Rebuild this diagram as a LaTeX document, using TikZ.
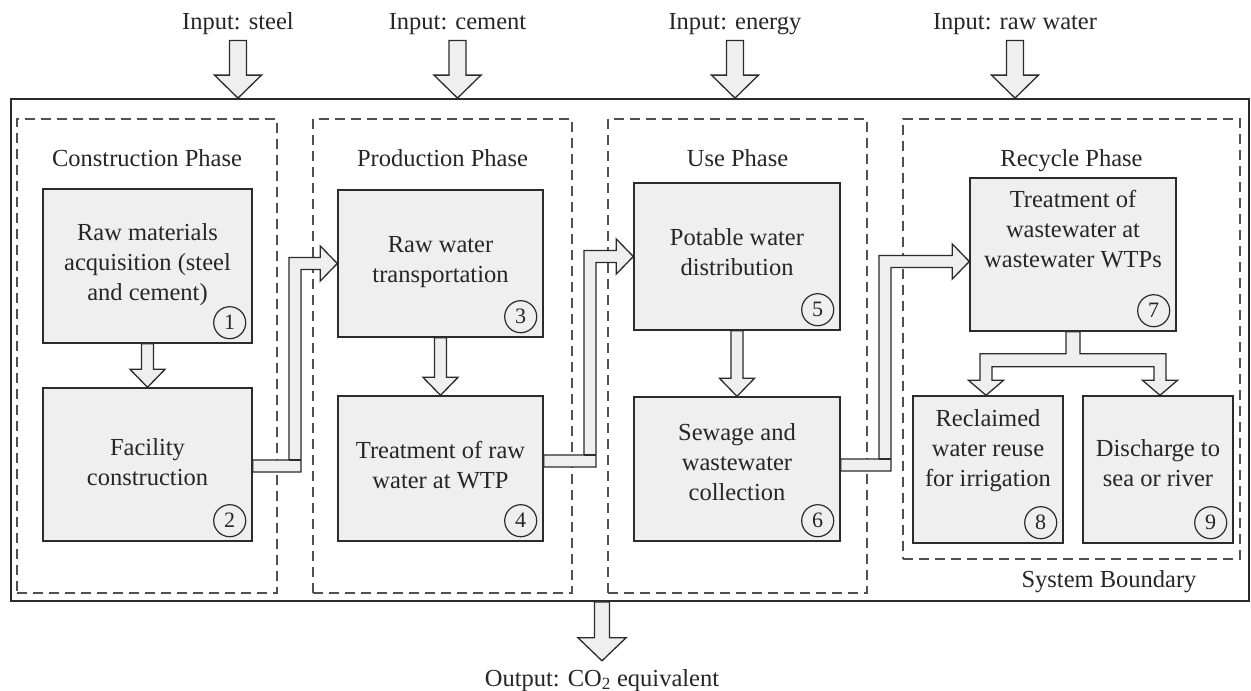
\documentclass[tikz,border=0pt]{standalone}
\usepackage{fontspec}
\setmainfont{Liberation Serif}
\usetikzlibrary{calc}
\definecolor{boxfill}{HTML}{EFEFEF}
\definecolor{linecol}{HTML}{2B2B2B}
\definecolor{dashcol}{HTML}{505050}
% invisible strut: equal line height/depth for every text line
\newcommand\lstrut{\rule[-6pt]{0pt}{23pt}}
% hollow block arrow pointing down: start, tip, shaft half width, head half width, head length
\newcommand\blockdown[5]{%
  \filldraw[blk] let \p1=(#1), \p2=(#2) in
    ({\x1-#3pt},\y1) -- ({\x1+#3pt},\y1) -- ({\x1+#3pt},{\y2+#5pt}) --
    ({\x1+#4pt},{\y2+#5pt}) -- (\x1,\y2) -- ({\x1-#4pt},{\y2+#5pt}) --
    ({\x1-#3pt},{\y2+#5pt}) -- cycle;}
% hollow elbow arrow: source point, target tip, riser position
\newcommand\elbowarrow[3]{%
  \filldraw[blk] let \p1=(#1), \p2=(#2), \p3=(#3) in
    (\x1,{\y1+6pt}) -- ({\x3-6pt},{\y1+6pt}) -- ({\x3-6pt},{\y2+6pt}) --
    ({\x2-17pt},{\y2+6pt}) -- ({\x2-17pt},{\y2+17.5pt}) -- (\x2,\y2) --
    ({\x2-17pt},{\y2-17.5pt}) -- ({\x2-17pt},{\y2-6pt}) -- ({\x3+6pt},{\y2-6pt}) --
    ({\x3+6pt},{\y1-6pt}) -- (\x1,{\y1-6pt}) -- cycle;
  \draw[blk, fill=none] let \p1=(#1), \p3=(#3) in
    ({\x3-6pt},{\y1+6pt}) -- ({\x3+6pt},{\y1+6pt});}

\begin{document}
\begin{tikzpicture}[x=1pt,y=-1pt,
  every node/.style={inner sep=0pt, font=\fontsize{24.5}{30}\selectfont, text=black!85},
  boundary/.style={draw=linecol, line width=1.8pt, fill=white, rectangle},
  phase/.style={draw=dashcol, line width=1.8pt, dash pattern=on 10pt off 6pt, rectangle},
  proc/.style={draw=linecol, line width=1.4pt, fill=boxfill, rectangle},
  txt/.style={align=center},
  num/.style={circle, draw=linecol, line width=1.2pt, minimum size=32pt,
              font=\fontsize{22}{24}\selectfont},
  blk/.style={draw=linecol, line width=1.3pt, fill=boxfill, line join=miter},
]
\useasboundingbox (0,0) rectangle (1251,691);
\fill[white] (0,0) rectangle (1251,691);

% system boundary
\node[boundary, minimum width=1238pt, minimum height=502pt] (sb) at (630,350) {};
\node[anchor=base] (sbl) at (1109,587) {System Boundary};

% phases
\node[phase, minimum width=260pt, minimum height=474pt] (p1) at (147,356) {};
\node[phase, minimum width=259pt, minimum height=474pt] (p2) at (442.5,356) {};
\node[phase, minimum width=259pt, minimum height=474pt] (p3) at (737.5,356) {};
\node[phase, minimum width=337pt, minimum height=440pt] (p4) at (1071.5,339) {};
\node[anchor=base] (pt1) at (147,166) {Construction Phase};
\node[anchor=base] (pt2) at (442.5,166) {Production Phase};
\node[anchor=base] (pt3) at (737.5,166) {Use Phase};
\node[anchor=base] (pt4) at (1071.5,166) {Recycle Phase};

% process boxes
\node[proc, minimum width=209pt, minimum height=154pt] (b1) at (147.5,266) {};
\node[proc, minimum width=209pt, minimum height=153pt] (b2) at (147.5,464.5) {};
\node[proc, minimum width=205pt, minimum height=147pt] (b3) at (440.5,263.5) {};
\node[proc, minimum width=205pt, minimum height=145pt] (b4) at (440.5,468.5) {};
\node[proc, minimum width=206pt, minimum height=147pt] (b5) at (737,256.5) {};
\node[proc, minimum width=206pt, minimum height=144pt] (b6) at (737,469) {};
\node[proc, minimum width=206pt, minimum height=153pt] (b7) at (1073,254.5) {};
\node[proc, minimum width=150pt, minimum height=147pt] (b8) at (988,469.5) {};
\node[proc, minimum width=150pt, minimum height=147pt] (b9) at (1158,469.5) {};

% box texts
\node[txt] (t1) at (147.5,264.5) {\lstrut Raw materials\\\lstrut acquisition (steel\\\lstrut and cement)};
\node[txt] (t2) at (147.5,464.5) {\lstrut Facility\\\lstrut construction};
\node[txt] (t3) at (440.5,261.5) {\lstrut Raw water\\\lstrut transportation};
\node[txt] (t4) at (440.5,467.5) {\lstrut Treatment of raw\\\lstrut water at WTP};
\node[txt] (t5) at (737,254.5) {\lstrut Potable water\\\lstrut distribution};
\node[txt] (t6) at (737,464.5) {\lstrut Sewage and\\\lstrut wastewater\\\lstrut collection};
\node[txt] (t7) at (1073,231.5) {\lstrut Treatment of\\\lstrut wastewater at\\\lstrut wastewater WTPs};
\node[txt] (t8) at (988,451) {\lstrut Reclaimed\\\lstrut water reuse\\\lstrut for irrigation};
\node[txt] (t9) at (1158,466) {\lstrut Discharge to\\\lstrut sea or river};

% step numbers
\foreach \i in {1,...,9}
  \node[num] (n\i) at ($(b\i.south east)+(-23,-21)$) {\i};

% flow inside each phase
\blockdown{b1.south}{b2.north}{6}{17.5}{18}
\blockdown{b3.south}{b4.north}{6}{17.5}{18}
\blockdown{b5.south}{b6.north}{6}{17.5}{18}

% flow between phases
\elbowarrow{$(b2.east)+(0,1.5)$}{b3.west}{$(p1.east)!0.5!(p2.west)$}
\elbowarrow{$(b4.east)+(0,-7.5)$}{b5.west}{$(p2.east)!0.5!(p3.west)$}
\elbowarrow{$(b6.east)+(0,-4)$}{$(b7.west)+(0,7)$}{$(p3.east)!0.5!(p4.west)$}

% split after wastewater treatment
\filldraw[blk] let \p1=(b7.south), \p2=(b8.north) in
  ({\x1-7pt},\y1) -- ({\x1-7pt},{\y1-22pt}) -- ({\x1-93pt},{\y1-22pt}) --
  ({\x1-93pt},{\y2+15pt}) -- ({\x1-104.5pt},{\y2+15pt}) -- ({\x1-87pt},\y2) --
  ({\x1-69.5pt},{\y2+15pt}) -- ({\x1-81pt},{\y2+15pt}) -- ({\x1-81pt},{\y1-35pt}) --
  ({\x1+81pt},{\y1-35pt}) -- ({\x1+81pt},{\y2+15pt}) -- ({\x1+69.5pt},{\y2+15pt}) --
  ({\x1+87pt},\y2) -- ({\x1+104.5pt},{\y2+15pt}) -- ({\x1+93pt},{\y2+15pt}) --
  ({\x1+93pt},{\y1-22pt}) -- ({\x1+7pt},{\y1-22pt}) -- ({\x1+7pt},\y1) -- cycle;

% inputs
\node[anchor=base] (in1) at (238,29) {Input: steel};
\node[anchor=base] (in2) at (457.5,29) {Input: cement};
\node[anchor=base] (in3) at (735,29) {Input: energy};
\node[anchor=base] (in4) at (1015,29) {Input: raw water};
\foreach \k in {1,...,4}
  \blockdown{$(in\k.south)+(0,6)$}{in\k.south |- sb.north}{8.5}{23.5}{23};

% output
\node[anchor=base] (out) at (602,686) {Output: CO\textsubscript{2} equivalent};
\blockdown{out.north |- sb.south}{$(out.north)+(0,-8)$}{7.5}{24}{23}
\end{tikzpicture}
\end{document}
